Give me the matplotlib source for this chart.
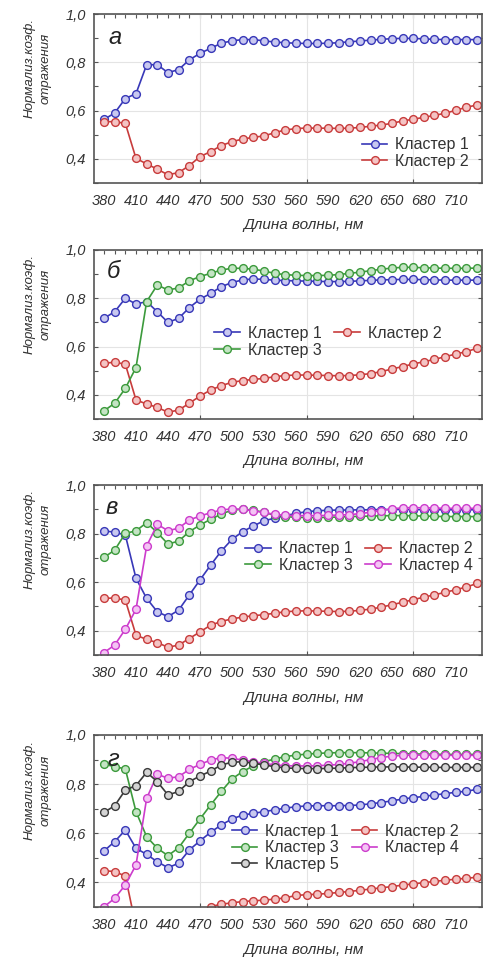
import numpy as np
import matplotlib
matplotlib.use("Agg")
import matplotlib.pyplot as plt
from matplotlib.ticker import MultipleLocator

plt.rcParams['font.family'] = ['Liberation Sans', 'DejaVu Sans']

# длины волн, нм
wl = np.arange(380, 731, 10)
tick_wl = np.arange(380, 711, 30)
grid_wl = [470, 570, 670]
y_ticks = [0.4, 0.6, 0.8, 1.0]
y_ticklabels = ['0,4', '0,6', '0,8', '1,0']

names = ['Кластер 1', 'Кластер 2', 'Кластер 3', 'Кластер 4', 'Кластер 5']
panel_letters = ['а', 'б', 'в', 'г']

# панель а
a_c1 = [0.563, 0.59, 0.65, 0.67, 0.79, 0.79, 0.757, 0.77, 0.81, 0.837, 0.858, 0.879,
        0.889, 0.894, 0.894, 0.889, 0.884, 0.881, 0.879, 0.878, 0.878, 0.879, 0.881, 0.885,
        0.888, 0.892, 0.895, 0.898, 0.899, 0.899, 0.897, 0.895, 0.894, 0.894, 0.894, 0.894]
a_c2 = [0.554, 0.554, 0.547, 0.402, 0.379, 0.357, 0.334, 0.343, 0.372, 0.409, 0.43, 0.455,
        0.471, 0.482, 0.489, 0.495, 0.508, 0.52, 0.525, 0.528, 0.527, 0.527, 0.526, 0.527,
        0.53, 0.535, 0.54, 0.547, 0.557, 0.564, 0.572, 0.58, 0.589, 0.601, 0.614, 0.623]

# панель б
b_c1 = [0.717, 0.744, 0.80, 0.776, 0.786, 0.744, 0.70, 0.717, 0.761, 0.796, 0.82, 0.848,
        0.865, 0.876, 0.88, 0.878, 0.875, 0.873, 0.872, 0.871, 0.870, 0.869, 0.869, 0.870,
        0.872, 0.874, 0.876, 0.877, 0.878, 0.878, 0.877, 0.876, 0.875, 0.875, 0.875, 0.875]
b_c2 = [0.531, 0.535, 0.527, 0.379, 0.362, 0.348, 0.328, 0.337, 0.365, 0.395, 0.42, 0.438,
        0.452, 0.459, 0.464, 0.468, 0.475, 0.480, 0.482, 0.482, 0.481, 0.480, 0.479, 0.480,
        0.483, 0.488, 0.496, 0.507, 0.517, 0.528, 0.537, 0.547, 0.558, 0.569, 0.579, 0.593]
b_c3 = [0.334, 0.365, 0.427, 0.513, 0.786, 0.855, 0.834, 0.843, 0.872, 0.89, 0.903, 0.917,
        0.924, 0.924, 0.92, 0.913, 0.903, 0.898, 0.895, 0.894, 0.894, 0.895, 0.898, 0.903,
        0.908, 0.914, 0.92, 0.925, 0.928, 0.928, 0.926, 0.925, 0.924, 0.924, 0.924, 0.925]

# панель в
c_c1 = [0.811, 0.806, 0.794, 0.616, 0.533, 0.478, 0.458, 0.485, 0.547, 0.609, 0.67, 0.728,
        0.776, 0.808, 0.831, 0.853, 0.863, 0.874, 0.883, 0.89, 0.894, 0.896, 0.897, 0.897,
        0.898, 0.898, 0.899, 0.899, 0.899, 0.899, 0.898, 0.898, 0.898, 0.898, 0.898, 0.898]
c_c2 = [0.533, 0.535, 0.526, 0.382, 0.364, 0.351, 0.332, 0.341, 0.368, 0.395, 0.423, 0.438,
        0.449, 0.456, 0.462, 0.466, 0.472, 0.478, 0.481, 0.482, 0.481, 0.480, 0.479, 0.480,
        0.484, 0.489, 0.497, 0.507, 0.517, 0.528, 0.538, 0.548, 0.558, 0.569, 0.580, 0.595]
c_c3 = [0.702, 0.732, 0.801, 0.811, 0.845, 0.804, 0.757, 0.769, 0.808, 0.835, 0.859, 0.88,
        0.897, 0.9, 0.897, 0.887, 0.876, 0.87, 0.867, 0.866, 0.866, 0.867, 0.868, 0.870,
        0.871, 0.872, 0.873, 0.874, 0.874, 0.873, 0.872, 0.871, 0.870, 0.870, 0.870, 0.870]
c_c4 = [0.31, 0.341, 0.406, 0.488, 0.749, 0.838, 0.812, 0.822, 0.856, 0.872, 0.886, 0.897,
        0.902, 0.9, 0.894, 0.887, 0.879, 0.875, 0.874, 0.874, 0.874, 0.875, 0.876, 0.878,
        0.882, 0.888, 0.895, 0.902, 0.906, 0.907, 0.906, 0.905, 0.904, 0.904, 0.904, 0.904]

# панель г
d_c1 = [0.528, 0.566, 0.613, 0.539, 0.514, 0.484, 0.46, 0.478, 0.532, 0.569, 0.604, 0.634,
        0.658, 0.674, 0.681, 0.688, 0.695, 0.702, 0.708, 0.711, 0.712, 0.712, 0.712, 0.713,
        0.715, 0.72, 0.725, 0.732, 0.739, 0.745, 0.75, 0.756, 0.761, 0.767, 0.771, 0.779]
d_c2 = [0.448, 0.444, 0.426, 0.22, 0.20, 0.19, 0.18, 0.19, 0.22, 0.27, 0.302, 0.311,
        0.317, 0.322, 0.325, 0.328, 0.332, 0.337, 0.347, 0.35, 0.352, 0.355, 0.359, 0.363,
        0.368, 0.373, 0.378, 0.383, 0.389, 0.394, 0.399, 0.404, 0.409, 0.413, 0.417, 0.421]
d_c3 = [0.881, 0.871, 0.862, 0.688, 0.586, 0.539, 0.509, 0.541, 0.6, 0.658, 0.715, 0.77,
        0.821, 0.851, 0.874, 0.891, 0.902, 0.912, 0.918, 0.922, 0.925, 0.927, 0.928, 0.928,
        0.928, 0.927, 0.926, 0.925, 0.924, 0.923, 0.922, 0.922, 0.921, 0.921, 0.921, 0.921]
d_c4 = [0.301, 0.335, 0.39, 0.471, 0.742, 0.84, 0.824, 0.83, 0.86, 0.88, 0.898, 0.908,
        0.905, 0.898, 0.891, 0.885, 0.878, 0.875, 0.874, 0.874, 0.875, 0.877, 0.88, 0.885,
        0.891, 0.9, 0.908, 0.914, 0.917, 0.918, 0.918, 0.917, 0.917, 0.917, 0.917, 0.917]
d_c5 = [0.685, 0.712, 0.776, 0.794, 0.848, 0.81, 0.756, 0.77, 0.81, 0.833, 0.853, 0.878,
        0.889, 0.891, 0.885, 0.878, 0.871, 0.866, 0.864, 0.863, 0.863, 0.864, 0.865, 0.867,
        0.868, 0.869, 0.87, 0.87, 0.87, 0.869, 0.869, 0.868, 0.868, 0.868, 0.868, 0.868]

panels = [[a_c1, a_c2], [b_c1, b_c2, b_c3], [c_c1, c_c2, c_c3, c_c4],
          [d_c1, d_c2, d_c3, d_c4, d_c5]]

line_cols = ['#3838b8', '#c83c3c', '#3c9a3c', '#cc3ccc', '#3a3a3a']
face_cols = ['#c8c8f0', '#f4c4c4', '#c4e4c4', '#f4c4f4', '#d4d4d4']
txt = '#333333'

# положение осей [left, bottom, width, height] в долях фигуры
ax_pos = [[0.1946, 0.8096, 0.8034, 0.1758],
          [0.1946, 0.5640, 0.8034, 0.1759],
          [0.1946, 0.3184, 0.8034, 0.1769],
          [0.1946, 0.0562, 0.8034, 0.1790]]
# якорь легенды (оси), число колонок
leg_anchor = [(0.69, 0.27), (0.31, 0.55), (0.39, 0.67), (0.355, 0.485)]
leg_ncol = [1, 2, 2, 2]
letter_xy = [(0.055, 0.86), (0.05, 0.87), (0.045, 0.87), (0.05, 0.86)]

fig = plt.figure(figsize=(4.83, 9.61), dpi=100)

for p, series in enumerate(panels):
    ax = fig.add_axes(ax_pos[p])
    lines = []
    for k, vals in enumerate(series):
        ln, = ax.plot(wl, vals, color=line_cols[k], lw=1.2, marker='o', ms=5.6,
                      mfc=face_cols[k], mec=line_cols[k], mew=1.0, label=names[k])
        lines.append(ln)

    ax.set_xlim(370.6, 734.6)
    ax.set_ylim(0.3, 1.0)

    # сетка по главным делениям, подписи на второстепенных
    ax.xaxis.remove_overlapping_locs = False
    ax.set_xticks(grid_wl)
    ax.set_xticklabels([])
    ax.set_xticks(tick_wl, minor=True)
    ax.set_xticklabels([str(v) for v in tick_wl], minor=True)
    ax.tick_params(axis='x', which='major', direction='in', length=3, width=0.8, color='#555')
    ax.tick_params(axis='x', which='minor', length=0, pad=8, labelsize=10.5, labelcolor=txt)
    for lb in ax.get_xticklabels(minor=True):
        lb.set_style('italic')

    ax.set_yticks(y_ticks)
    ax.set_yticklabels(y_ticklabels)
    ax.yaxis.set_minor_locator(MultipleLocator(0.1))
    ax.tick_params(axis='y', which='both', direction='in', length=3, width=0.8, color='#555',
                   right=True, pad=6, labelsize=10.5, labelcolor=txt)
    for lb in ax.get_yticklabels():
        lb.set_style('italic')

    top = ax.secondary_xaxis('top')
    top.set_xticks(wl)
    top.set_xticklabels([])
    top.tick_params(direction='in', length=3, width=0.8, color='#555')
    top.spines['top'].set_visible(False)

    ax.grid(True, which='major', color='#e4e4e4', lw=0.8)
    ax.set_axisbelow(True)
    for s in ax.spines.values():
        s.set_color('#555555')
        s.set_linewidth(1.2)

    ax.set_xlabel('Длина волны, нм', fontsize=11, style='italic', color=txt)
    ax.xaxis.set_label_coords(0.54, -0.21)
    ax.set_ylabel('Нормализ.коэф.\nотражения', fontsize=9.5, style='italic', color=txt,
                  linespacing=1.45)
    ax.yaxis.set_label_coords(-0.11, 0.68)

    ax.text(letter_xy[p][0], letter_xy[p][1], panel_letters[p], transform=ax.transAxes,
            fontsize=17, style='italic', color='#222', ha='center', va='center')

    # порядок по строкам при ncol=2
    if leg_ncol[p] == 1:
        order = list(range(len(lines)))
    else:
        order = list(range(0, len(lines), 2)) + list(range(1, len(lines), 2))
    ax.legend([lines[i] for i in order], [names[i] for i in order], ncol=leg_ncol[p],
              loc='upper left', bbox_to_anchor=leg_anchor[p], frameon=False,
              fontsize=11.5, handlelength=1.6, handletextpad=0.5, columnspacing=0.8,
              labelspacing=0.1, borderpad=0, borderaxespad=0, labelcolor=txt)

fig.savefig('out.png', dpi=100)
